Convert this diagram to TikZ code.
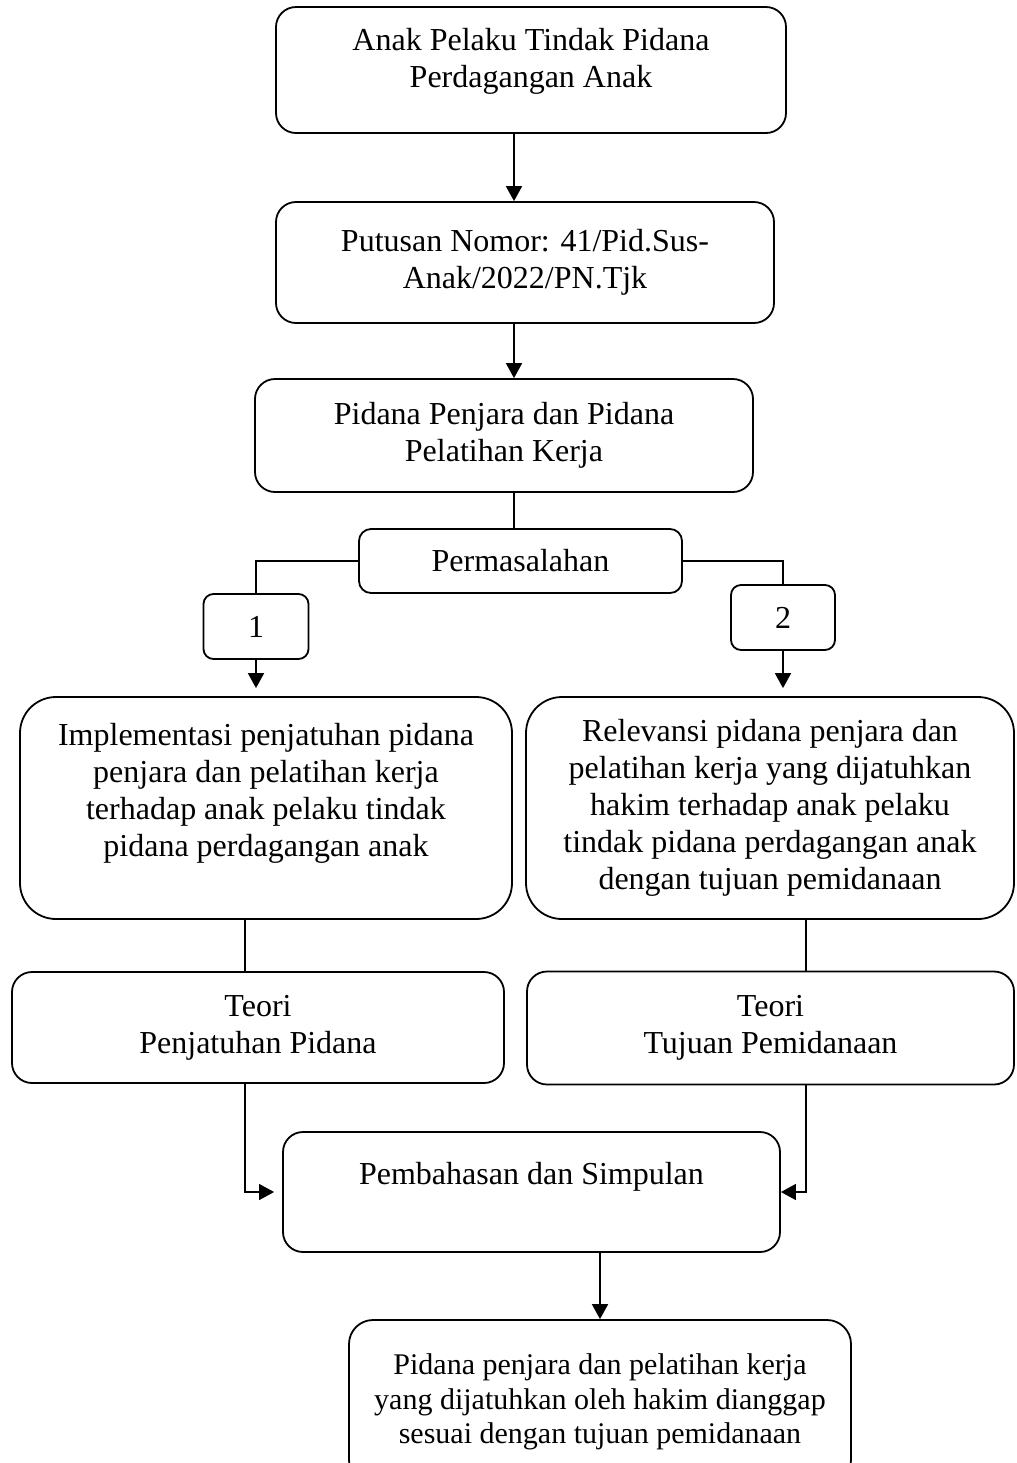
\documentclass[tikz,border=0pt]{standalone}
\usepackage{fontspec}
\setmainfont{Liberation Serif}
\usetikzlibrary{arrows.meta}

\begin{document}
\begin{tikzpicture}[x=0.5pt,y=-0.5pt,line width=0.9pt,>={Triangle[length=7.5pt,width=8pt]}]
	\tikzstyle{kotak}=[draw=black,rounded corners=10pt,align=center,inner sep=0pt,font=\fontsize{16}{18.5}\selectfont]
	\tikzstyle{nomor}=[kotak,rounded corners=5pt]
	\tikzstyle{besar}=[kotak,rounded corners=18pt]
	%\tikzstyle{besar}=[kotak,rounded corners=10pt]
	\tikzstyle{hasil}=[kotak,rounded corners=12pt,font=\fontsize{15}{17.25}\selectfont]
	\tikzstyle{tipis}=[line width=0.6pt]
	\useasboundingbox (0,0) rectangle (1017,1463);
	\coordinate (poros) at (514,0);
	\coordinate (kiri) at (245,0);
	\coordinate (kanan) at (806,0);
	\node[kotak,minimum width=255pt,minimum height=63pt,text depth=12pt] (anak) at (531,70) {Anak Pelaku Tindak Pidana\\Perdagangan Anak};
	\node[kotak,minimum width=249pt,minimum height=60.5pt] (putusan) at (525,262.5) {Putusan Nomor: 41/Pid.Sus-\\Anak/2022/PN.Tjk};
	\node[kotak,minimum width=249pt,minimum height=56.5pt] (pidana) at (504,435.5) {Pidana Penjara dan Pidana\\Pelatihan Kerja};
	\node[kotak,rounded corners=6pt,minimum width=161.5pt,minimum height=32pt] (masalah) at (520.5,561) {Permasalahan};
	\node[nomor,minimum width=52.5pt,minimum height=32.5pt] (satu) at (256,626.5) {1};
	\node[nomor,minimum width=52pt,minimum height=32.5pt] (dua) at (783,617.5) {2};
	\node[besar,minimum width=246pt,minimum height=111pt] (implementasi) at (266,808) {Implementasi penjatuhan pidana\\penjara dan pelatihan kerja\\terhadap anak pelaku tindak\\pidana perdagangan anak\\ \mbox{}};
	\node[besar,minimum width=244pt,minimum height=111pt] (relevansi) at (770,808) {Relevansi pidana penjara dan\\pelatihan kerja yang dijatuhkan\\hakim terhadap anak pelaku\\tindak pidana perdagangan anak\\dengan tujuan pemidanaan};
	\node[kotak,minimum width=246pt,minimum height=55.5pt] (teoripenjatuhan) at (258,1027.5) {Teori\\Penjatuhan Pidana};
	\node[kotak,minimum width=243.5pt,minimum height=56.5pt] (teoritujuan) at (770.5,1028) {Teori\\Tujuan Pemidanaan};
	\node[kotak,minimum width=248.5pt,minimum height=60pt] (bahasan) at (531.5,1192) {Pembahasan dan Simpulan\\ \mbox{}};
	\node[hasil,minimum width=251pt,minimum height=82pt] (simpulan) at (600,1402) {Pidana penjara dan pelatihan kerja\\yang dijatuhkan oleh hakim dianggap\\sesuai dengan tujuan pemidanaan};
	\draw[->] (anak.south -| poros) -- (putusan.north -| poros);
	\draw[->] (putusan.south -| poros) -- (pidana.north -| poros);
	\draw (pidana.south -| poros) -- (masalah.north -| poros);
	\draw (masalah.west) -| (satu.north);
	\draw (masalah.east) -| (dua.north);
	\draw[->,shorten >=4pt] (satu.south) -- (satu.south |- implementasi.north);
	\draw[->,shorten >=4pt] (dua.south) -- (dua.south |- relevansi.north);
	\draw[tipis] (implementasi.south -| kiri) -- (teoripenjatuhan.north -| kiri);
	\draw[tipis] (relevansi.south -| kanan) -- (teoritujuan.north -| kanan);
	\draw[tipis,->,shorten >=4pt] (teoripenjatuhan.south -| kiri) |- (bahasan.west);
	\draw[tipis,->] (teoritujuan.south -| kanan) |- (bahasan.east);
	\draw[->] (bahasan.south -| simpulan.north) -- (simpulan.north);
\end{tikzpicture}
\end{document}
